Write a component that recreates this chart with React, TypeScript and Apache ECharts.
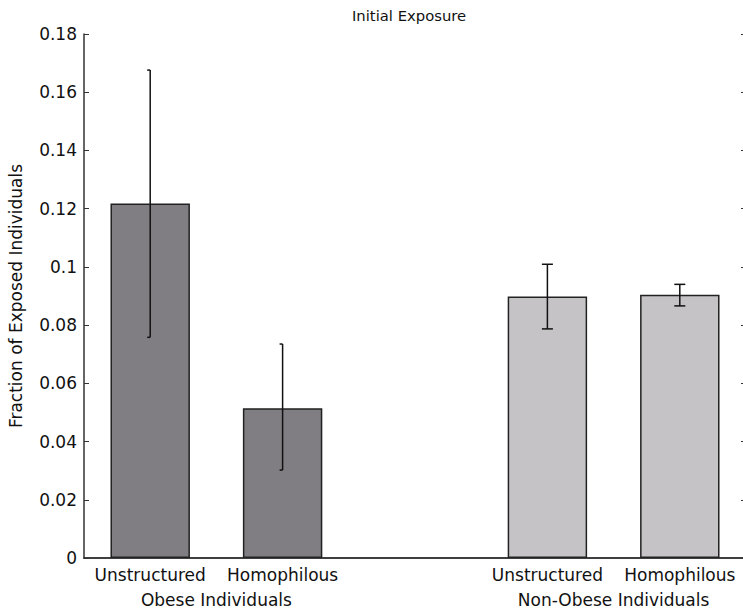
import React, { useEffect, useRef } from "react";
import * as echarts from "echarts";

const categories = ["Unstructured", "Homophilous", "", "Unstructured", "Homophilous"];
const groupLabels = ["Obese Individuals", "Non-Obese Individuals"];
const barValues: (number | null)[] = [0.1218, 0.0514, null, 0.0898, 0.0904];
const errLow: (number | null)[] = [0.0758, 0.0302, null, 0.0787, 0.0866];
const errHigh: (number | null)[] = [0.1676, 0.0735, null, 0.1009, 0.094];
const yTicks = [0, 0.02, 0.04, 0.06, 0.08, 0.1, 0.12, 0.14, 0.16, 0.18];

const FONT = "DejaVu Sans";
const FS = 17;
const DARK = "#807e82";
const LIGHT = "#c5c3c6";

export default function App() {
  const ref = useRef<HTMLDivElement>(null);
  useEffect(() => {
    if (!ref.current) return;
    const chart = echarts.init(ref.current, undefined, { renderer: "svg" });
    const tickShow = (i: number) => categories[i] !== "";
    const option: any = {
      animation: false,
      backgroundColor: "#ffffff",
      title: {
        text: "Initial Exposure",
        left: 347,
        top: 3,
        textStyle: { fontFamily: FONT, fontSize: 14.8, fontWeight: "normal", color: "#111" },
      },
      grid: { left: 84, right: 4, top: 34, bottom: 55, outerBoundsMode: "none", containLabel: false },
      xAxis: [
        {
          type: "category",
          data: categories,
          position: "bottom",
          boundaryGap: true,
          axisLine: { lineStyle: { color: "#333", width: 1.5 } },
          axisTick: { inside: true, length: 5, alignWithLabel: true, interval: (i: number) => tickShow(i), lineStyle: { color: "#333" } },
          axisLabel: { interval: 0, margin: 8, fontFamily: FONT, fontSize: FS, color: "#111" },
          splitLine: { show: false },
        },
        {
          type: "category",
          data: categories,
          position: "top",
          boundaryGap: true,
          axisLine: { lineStyle: { color: "#333", width: 1.5 } },
          axisTick: { inside: true, length: 5, alignWithLabel: true, interval: (i: number) => tickShow(i), lineStyle: { color: "#333" } },
          axisLabel: { show: false },
          splitLine: { show: false },
        },
      ],
      yAxis: [
        {
          type: "value",
          min: yTicks[0],
          max: yTicks[yTicks.length - 1],
          interval: 0.02,
          position: "left",
          name: "Fraction of Exposed Individuals",
          nameLocation: "middle",
          nameGap: 60,
          nameTextStyle: { fontFamily: FONT, fontSize: FS, color: "#111" },
          axisLine: { show: true, lineStyle: { color: "#333", width: 1.5 } },
          axisTick: { show: true, inside: true, length: 5, lineStyle: { color: "#333" } },
          axisLabel: {
            margin: 7,
            fontFamily: FONT,
            fontSize: FS,
            color: "#111",
            formatter: (v: number) => String(parseFloat(v.toFixed(2))),
          },
          splitLine: { show: false },
        },
        {
          type: "value",
          min: yTicks[0],
          max: yTicks[yTicks.length - 1],
          interval: 0.02,
          position: "right",
          axisLine: { show: true, lineStyle: { color: "#333", width: 1.5 } },
          axisTick: { show: true, inside: true, length: 5, lineStyle: { color: "#333" } },
          axisLabel: { show: false },
          splitLine: { show: false },
        },
      ],
      series: [
        {
          type: "bar",
          xAxisIndex: 0,
          yAxisIndex: 0,
          barWidth: "60%",
          data: barValues.map((v, i) => ({
            value: v,
            itemStyle: { color: i < 2 ? DARK : LIGHT, borderColor: "#222", borderWidth: 1.5 },
          })),
        },
        {
          type: "custom",
          xAxisIndex: 0,
          yAxisIndex: 0,
          data: errLow.map((lo, i) => [i, lo, errHigh[i]]).filter((d) => d[1] !== null),
          renderItem: (params: any, api: any) => {
            const idx = api.value(0);
            const lo = api.coord([idx, api.value(1)]);
            const hi = api.coord([idx, api.value(2)]);
            const x = lo[0];
            const half = idx < 2 ? 0 : 5.5;
            const left = idx < 2 ? 3 : 5.5;
            const st = { stroke: "#111", lineWidth: 1.5 };
            return {
              type: "group",
              children: [
                { type: "line", shape: { x1: x, y1: lo[1], x2: x, y2: hi[1] }, style: st },
                { type: "line", shape: { x1: x - left, y1: lo[1], x2: x + half, y2: lo[1] }, style: st },
                { type: "line", shape: { x1: x - left, y1: hi[1], x2: x + half, y2: hi[1] }, style: st },
              ],
            };
          },
          z: 5,
        },
      ],
    };
    chart.setOption(option);
    const p0 = chart.convertToPixel({ xAxisIndex: 0 }, 0) as number;
    const p1 = chart.convertToPixel({ xAxisIndex: 0 }, 1) as number;
    const p3 = chart.convertToPixel({ xAxisIndex: 0 }, 3) as number;
    const p4 = chart.convertToPixel({ xAxisIndex: 0 }, 4) as number;
    const yBase = chart.convertToPixel({ yAxisIndex: 0 }, 0) as number;
    chart.setOption({
      graphic: [
        {
          type: "text",
          x: (p0 + p1) / 2,
          y: yBase + 42,
          style: { text: groupLabels[0], fontFamily: FONT, fontSize: FS, fill: "#111", align: "center", verticalAlign: "middle" },
        },
        {
          type: "text",
          x: (p3 + p4) / 2,
          y: yBase + 42,
          style: { text: groupLabels[1], fontFamily: FONT, fontSize: FS, fill: "#111", align: "center", verticalAlign: "middle" },
        },
      ],
    });
    return () => chart.dispose();
  }, []);
  return (
    <div style={{ position: "fixed", left: 0, top: 0, width: 743, height: 613, overflow: "hidden", background: "#fff" }}>
      <div ref={ref} style={{ width: 750, height: 613 }} />
    </div>
  );
}
